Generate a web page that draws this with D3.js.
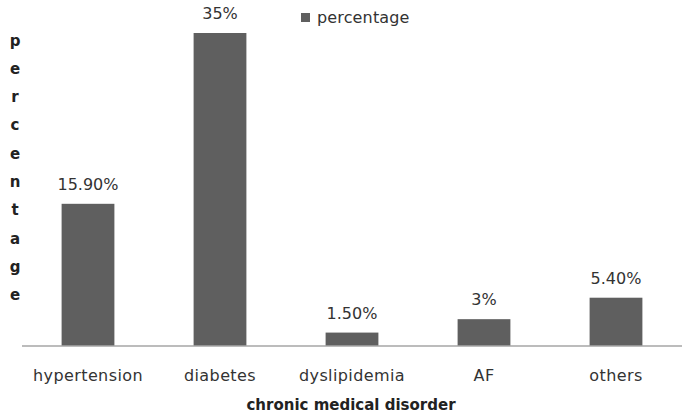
<!DOCTYPE html>
<html><head><meta charset="utf-8">
<script src="https://cdn.jsdelivr.net/npm/d3@7"></script>
<style>body{margin:0;background:#fff;} svg{display:block;}</style>
</head><body>
<div id="chart"></div>
<script>
const categories = ["hypertension", "diabetes", "dyslipidemia", "AF", "others"];
const values = [15.9, 35, 1.5, 3, 5.4];
const valueLabels = ["15.90%", "35%", "1.50%", "3%", "5.40%"];
const seriesName = "percentage";
const yTitle = "percentage";
const xTitle = "chronic medical disorder";

const W = 686, H = 417;
const font = "'DejaVu Sans', Verdana, sans-serif";
const svg = d3.select("#chart").append("svg").attr("width", W).attr("height", H);

const x = d3.scaleBand().domain(categories).range([22, 682]).paddingInner(0.6).paddingOuter(0.3);
const y = d3.scaleLinear().domain([0, 35]).range([346, 33]);

// bars
svg.selectAll("rect.bar").data(categories).join("rect")
  .attr("class", "bar")
  .attr("x", d => x(d))
  .attr("width", x.bandwidth())
  .attr("y", (d, i) => y(values[i]))
  .attr("height", (d, i) => y(0) - y(values[i]))
  .attr("fill", "#5f5f5f");

// axis
const xAxis = svg.append("g").attr("transform", `translate(0,${y(0)})`)
  .call(d3.axisBottom(x).tickSize(0));
xAxis.select(".domain").attr("stroke", "#a6a6a6").attr("stroke-width", 1.5).attr("d", "M22,0H682");
xAxis.selectAll("text").attr("font-family", font).attr("font-size", 16).attr("fill", "#333")
  .attr("letter-spacing", "0.4px").attr("y", 35).attr("dy", 0);

// value labels
svg.selectAll("text.val").data(categories).join("text")
  .attr("class", "val")
  .attr("x", d => x(d) + x.bandwidth() / 2)
  .attr("y", (d, i) => y(values[i]) - 14)
  .attr("text-anchor", "middle")
  .attr("font-family", font).attr("font-size", 16).attr("fill", "#333")
  .text((d, i) => valueLabels[i]);

// y title, stacked letters
svg.append("g").selectAll("text").data(yTitle.split("")).join("text")
  .attr("x", 15).attr("y", (d, i) => 45.5 + i * 28.3)
  .attr("text-anchor", "middle")
  .attr("font-family", font).attr("font-size", 15).attr("font-weight", "bold").attr("fill", "#222")
  .text(d => d);

// x title
svg.append("text").attr("x", 351).attr("y", 410).attr("text-anchor", "middle")
  .attr("font-family", font).attr("font-size", 15).attr("font-weight", "bold").attr("fill", "#222")
  .text(xTitle);

// legend
svg.append("rect").attr("x", 301).attr("y", 13).attr("width", 9).attr("height", 9).attr("fill", "#5f5f5f");
svg.append("text").attr("x", 317).attr("y", 23)
  .attr("font-family", font).attr("font-size", 16).attr("fill", "#333").attr("letter-spacing", "0.15px")
  .text(seriesName);
</script>
</body></html>
